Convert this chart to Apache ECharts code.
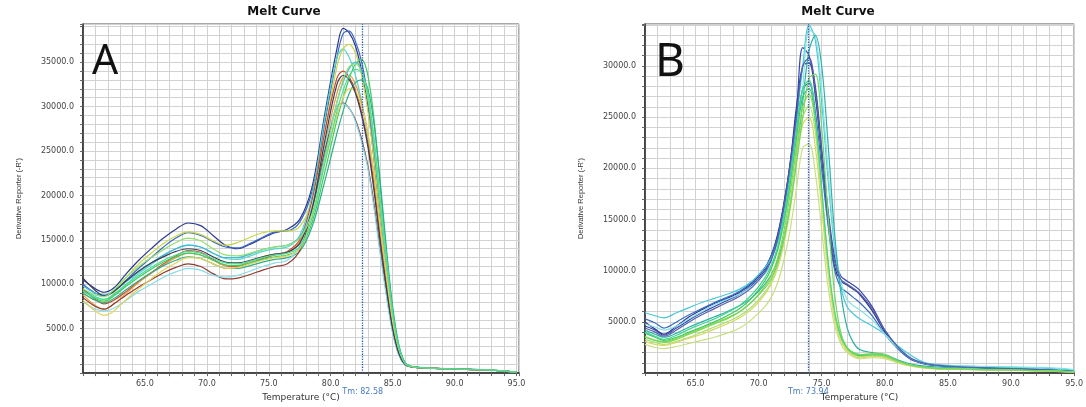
<!DOCTYPE html>
<html>
<head>
<meta charset="utf-8">
<script src="https://cdn.jsdelivr.net/npm/echarts@6/dist/echarts.min.js"></script>
<style>
html,body{margin:0;padding:0;background:#fff;}
#chart{width:1086px;height:407px;}
</style>
</head>
<body>
<div id="chart"></div>
<script>
// ---------- Panel A data ----------
const tempsA = [60, 61, 61.7, 62.5, 63.5, 64.5, 65.5, 66.5, 67.5, 68.5, 69.5, 70.5, 71.5, 72.5, 73.5, 74.5, 75.5, 76.5, 77.5, 78.5, 79.5, 80.5, 81, 81.5, 82, 82.5, 83, 83.5, 84, 84.5, 85, 85.5, 86, 86.5, 87.5, 90, 92.5, 95];
const A01 = [10500,9500,9100,9600,11200,12700,14000,15200,16200,16900,16600,15500,14400,14000,14500,15200,15800,16200,17300,21000,29000,36500,38800,38300,36800,34000,30000,24000,17000,11000,5500,2300,1000,700,600,450,350,100];
const A02 = [10000,9000,8700,9200,10500,11800,13000,14200,15200,15800,15500,14800,14200,14100,14600,15300,15900,16000,17000,20500,28000,35500,38200,38500,37300,35000,31000,25000,18000,11500,5800,2400,1000,700,600,480,380,120];
const A03 = [9400,8600,8300,8800,10000,11200,12200,13200,14000,14400,14200,13500,12900,12800,13200,13700,14000,14200,15500,20000,28500,35500,36500,35500,33500,30500,26500,21000,15000,9500,4800,2100,950,700,580,450,350,120];
const A04 = [9000,8200,8000,9000,10800,12300,13500,14600,15400,15900,15600,14900,14400,14700,15300,15800,16000,16000,16500,19500,27000,34500,36500,37000,36000,33500,29500,24000,17500,11500,6000,2500,1000,700,580,460,360,110];
const A05 = [9500,8300,7800,8200,9200,10300,11300,12300,13200,13800,13600,12800,12100,12000,12400,12900,13300,13700,15000,19500,27000,33200,34000,33300,31800,29300,25800,21000,15000,9800,5000,2200,950,700,580,450,350,120];
const A06 = [8800,7600,7200,7800,9000,10200,11200,12200,13000,13500,13300,12700,12100,12100,12600,13100,13400,13600,14800,18800,25500,31500,33300,33500,32500,30300,27000,22000,16000,10500,5500,2300,1000,700,580,450,350,120];
const A07 = [9300,8400,8100,8700,9800,10800,11700,12500,13100,13500,13300,12700,12200,12100,12400,12800,13100,13300,14000,17000,22500,28500,31000,33200,34800,35300,33500,28500,21000,13500,7200,3000,1150,750,600,470,360,120];
const A08 = [9800,9000,8800,9300,10300,11400,12400,13300,14000,14400,14200,13500,13000,13000,13400,13900,14200,14400,15300,18500,24500,30500,32800,34300,35000,34000,31000,25500,18500,12000,6200,2600,1050,720,580,460,360,120];
const A09 = [9000,8200,7900,8400,9400,10400,11300,12100,12700,13100,12900,12300,11800,11800,12100,12500,12800,13000,13700,16500,21500,27000,29500,31500,32700,33000,32000,28000,21500,14000,7500,3200,1200,760,600,470,360,120];
const A10 = [8500,7500,7200,7800,8800,9700,10500,11300,11900,12300,12000,11200,10600,10700,11100,11600,12000,12300,13800,18500,25000,30000,30400,29800,28500,26300,23300,19000,13800,9000,4700,2100,950,700,580,450,350,120];
const A11 = [8000,7200,7000,7300,8200,9200,10000,10800,11400,11800,11600,11000,10800,11000,11500,12000,12400,12700,14300,19000,25500,30000,30300,29800,28300,26000,23000,18500,13300,8600,4500,2000,900,700,580,450,350,120];
const A12 = [8200,7000,6500,7000,8300,9500,10600,11600,12400,13000,12900,12300,11800,11900,12300,12700,13000,13200,14000,17500,23500,29000,31000,32000,31700,30000,27000,22500,16500,11000,5800,2500,1000,700,580,450,350,120];
const A13 = [10700,9300,8700,9200,10400,11500,12400,13100,13700,14000,13800,13100,12500,12400,12700,13100,13400,13600,14600,18500,26000,32500,33500,33000,31500,29000,25500,20500,14800,9600,5000,2200,950,700,580,450,350,120];
const A14 = [9500,8800,8600,9400,10800,12000,13000,13900,14700,15200,14900,14000,13300,13200,13500,13900,14200,14400,15200,18000,24000,30500,33000,34500,34800,33800,31000,26000,19000,12500,6500,2800,1100,730,590,460,360,120];
const A15 = [9200,8500,8300,8900,10000,11000,11900,12700,13300,13700,13500,12900,12400,12300,12600,13000,13300,13500,14200,17500,23500,29500,31800,33500,34200,33800,31500,26500,19500,13000,6800,2900,1100,740,600,470,360,120];
const curvesA = [A01,A02,A03,A04,A05,A06,A07,A08,A09,A10,A11,A12,A13,A14,A15];
const colorsA = ['#2b3990','#3a6bc4','#4fd6c6','#c9d648','#c8462c','#e89a48','#38cf5e','#3fb6dc','#2fae8c','#8e3b2e','#86dbe9','#e2d25a','#3d3d55','#92e070','#4edc96'];
const tmA = 82.58;

// ---------- Panel B data ----------
const tempsB = [61, 61.8, 62.5, 63.5, 64.5, 65.5, 66.5, 67.5, 68.5, 69.5, 70.5, 71, 71.5, 72, 72.5, 73, 73.5, 74, 74.5, 75, 75.5, 76, 76.5, 77, 77.5, 78, 79, 80, 81, 82, 83, 84, 86, 88, 90, 92.5, 95];
const B01 = [5000,4300,3800,4600,5500,6200,6800,7300,7900,8800,10200,11500,13500,16500,20500,26000,30000,30300,27000,21000,15000,10500,9000,8600,8200,7700,6100,4000,2500,1400,950,750,600,500,420,330,150];
const B02 = [4600,4200,3700,4400,5200,5900,6500,7100,7700,8600,10000,11300,13300,16500,20500,25500,31800,31000,28000,22000,16000,11500,9500,9000,8600,8100,6500,4200,2600,1500,1000,780,620,520,430,340,150];
const B03 = [5300,4900,4400,5000,5700,6300,6900,7400,8000,8900,10300,11500,13200,16000,19500,23500,27800,28300,25500,20000,14500,10200,8400,7900,7400,6900,5600,3800,2400,1400,950,760,620,520,430,340,150];
const B04 = [5900,5600,5400,5900,6400,6900,7300,7700,8200,9000,10300,11200,12800,15500,19500,24500,30000,34000,32500,26500,19000,12500,8500,6500,5800,5300,4600,3800,2700,1800,1100,850,700,620,560,480,300];
const B05 = [4800,4500,4200,4600,5300,6000,6700,7200,7700,8500,9700,10500,12000,14500,18000,22500,28000,33500,33000,27500,20000,13000,9000,7200,6600,6200,5200,3800,2500,1500,1000,800,700,650,600,550,350];
const B06 = [4200,3800,3500,3900,4500,5000,5500,6000,6600,7400,8700,9600,11000,13200,16500,21000,26500,31500,33000,30000,22500,14000,8000,4500,3000,2300,2000,1800,1300,900,700,600,520,480,420,350,160];
const B07 = [4400,4000,3600,4200,5000,5700,6300,6900,7500,8400,9800,11000,13000,16200,20200,25000,30000,30800,27500,21500,15500,11000,9200,8700,8300,7800,6300,4200,2600,1500,1000,780,620,520,430,340,150];
const B08 = [3900,3500,3200,3500,4000,4500,5000,5600,6300,7400,9000,10200,12000,14800,18500,23000,27000,27800,24500,17500,10500,5800,3500,2400,1900,1700,1700,1600,1100,750,550,450,380,330,280,220,120];
const B09 = [3600,3200,3000,3300,3800,4300,4800,5300,6000,7000,8500,9500,11200,13800,17500,22000,26000,27200,24500,18000,11000,6200,3700,2500,2000,1800,1900,1800,1200,800,580,460,380,330,280,220,120];
const B10 = [3300,3000,2800,3100,3500,4000,4500,5000,5600,6500,7900,8900,10500,13000,16500,21000,25000,26100,23500,17000,10500,6000,3500,2300,1800,1600,1700,1600,1100,750,550,450,380,330,280,220,120];
const B11 = [2800,2500,2400,2600,2900,3200,3500,3900,4400,5300,6500,7400,8800,11000,14000,18000,22000,22400,19500,14000,8500,4800,2900,2000,1600,1400,1500,1400,1000,700,500,420,360,310,270,210,110];
const B12 = [4000,3600,3300,3700,4300,4800,5300,5900,6600,7700,9300,10500,12300,15200,19000,23500,27800,28600,25000,18000,11000,6000,3600,2500,2000,1800,1800,1700,1200,800,580,460,390,340,290,230,120];
const B13 = [3100,2800,2700,3000,3400,3800,4300,4800,5400,6300,7700,8700,10200,12600,16000,20500,24300,25000,22000,16000,9800,5500,3200,2200,1700,1500,1600,1500,1050,720,530,430,370,320,270,210,110];
const B14 = [3500,3200,3100,3400,3900,4400,4900,5400,6000,7000,8300,9200,10700,13000,16200,20500,25000,28800,29200,24000,15500,8000,4000,2500,2000,1800,1800,1700,1200,800,580,460,390,340,290,230,120];
const curvesB = [B01,B02,B03,B04,B05,B06,B07,B08,B09,B10,B11,B12,B13,B14];
const colorsB = ['#2a3590','#3a48b0','#3b6cc0','#45c8d8','#86e2e2','#30b0a8','#5560a8','#3cc860','#8ad840','#a8e070','#c8e080','#40d890','#d8d860','#70d860'];
const tmB = 73.94;

// ---------- Tick labels ----------
const xLabels = [65, 70, 75, 80, 85, 90, 95];
const yLabelsA = [5000, 10000, 15000, 20000, 25000, 30000, 35000];
const yLabelsB = [5000, 10000, 15000, 20000, 25000, 30000];
const titleText = 'Melt Curve';
const xName = 'Temperature (°C)';
const yName = "Derivative Reporter (-R')";

const chart = echarts.init(document.getElementById('chart'), null, {renderer: 'canvas'});

const gridCol = '#d2d2d2';
function xAxisDef(gi, min, max) {
  return {
    type: 'value', gridIndex: gi, min: min, max: max, interval: 1,
    axisLine: {show: true, onZero: false, lineStyle: {color: '#222', width: 1.5}},
    axisTick: {show: true, length: 3, lineStyle: {color: '#666'}},
    axisLabel: {customValues: xLabels, formatter: v => v.toFixed(1), fontSize: 8, color: '#444', margin: 7, fontFamily: 'DejaVu Sans'},
    splitLine: {show: true, lineStyle: {color: gridCol, width: 1}},
    name: xName, nameLocation: 'middle', nameGap: 19,
    nameTextStyle: {fontSize: 9, color: '#333', fontFamily: 'DejaVu Sans', verticalAlign: 'top'}
  };
}
function yAxisDef(gi, max, labels) {
  return {
    type: 'value', gridIndex: gi, min: 0, max: max, interval: 1000,
    axisLine: {show: true, lineStyle: {color: '#222', width: 1.5}},
    axisTick: {show: true, length: 3, lineStyle: {color: '#666'}},
    axisLabel: {customValues: labels, formatter: v => v.toFixed(1), fontSize: 8, color: '#444', margin: 9, fontFamily: 'DejaVu Sans'},
    splitLine: {show: true, lineStyle: {color: gridCol, width: 1}},
    name: yName, nameLocation: 'middle', nameGap: 60, nameRotate: 90,
    nameTextStyle: {fontSize: 7.5, color: '#333', fontFamily: 'Liberation Sans'}
  };
}

function makeSeries(temps, curves, colors, axisIdx, tm) {
  return curves.map((vals, i) => {
    const s = {
      type: 'line', xAxisIndex: axisIdx, yAxisIndex: axisIdx,
      data: temps.map((t, j) => [t, vals[j]]),
      showSymbol: false, symbol: 'none', smooth: 0.35,
      lineStyle: {color: colors[i], width: 1.2}, itemStyle: {color: colors[i]},
      clip: true, silent: true, z: 3
    };
    if (i === 0) {
      s.markLine = {
        silent: true, symbol: 'none', animation: false,
        lineStyle: {color: '#2c5cb0', type: 'dotted', width: 1.3},
        label: {show: true, position: 'start', distance: 15, formatter: 'Tm: ' + tm.toFixed(2), color: '#4a7cc0', fontSize: 8, fontFamily: 'DejaVu Sans'},
        data: [{xAxis: tm}]
      };
    }
    return s;
  });
}

const option = {
  animation: false,
  backgroundColor: '#ffffff',
  grid: [
    {left: 83, top: 24, width: 436, height: 355, show: true, borderColor: '#555', borderWidth: 1, backgroundColor: '#fff'},
    {left: 645, top: 24, width: 436, height: 356, show: true, borderColor: '#555', borderWidth: 1, backgroundColor: '#fff'}
  ],
  xAxis: [xAxisDef(0, 60, 95.2), xAxisDef(1, 61, 95)],
  yAxis: [yAxisDef(0, 39300, yLabelsA), yAxisDef(1, 34100, yLabelsB)],
  series: [].concat(
    makeSeries(tempsA, curvesA, colorsA, 0, tmA),
    makeSeries(tempsB, curvesB, colorsB, 1, tmB)
  ),
  graphic: [
    {type: 'text', x: 284, y: 12, z: 10, style: {text: titleText, font: 'bold 12px "DejaVu Sans"', fill: '#111', textAlign: 'center', textVerticalAlign: 'middle', align: 'center', verticalAlign: 'middle'}},
    {type: 'text', x: 838, y: 12, z: 10, style: {text: titleText, font: 'bold 12px "DejaVu Sans"', fill: '#111', textAlign: 'center', textVerticalAlign: 'middle', align: 'center', verticalAlign: 'middle'}},
    {type: 'text', x: 92, y: 62, z: 10, style: {text: 'A', font: '41px "Noto Sans"', fill: '#111', textAlign: 'left', textVerticalAlign: 'middle', align: 'left', verticalAlign: 'middle'}},
    {type: 'text', x: 655, y: 63, z: 10, style: {text: 'B', font: '46px "Noto Sans"', fill: '#111', textAlign: 'left', textVerticalAlign: 'middle', align: 'left', verticalAlign: 'middle'}}
  ]
};
chart.setOption(option);
</script>
</body>
</html>
